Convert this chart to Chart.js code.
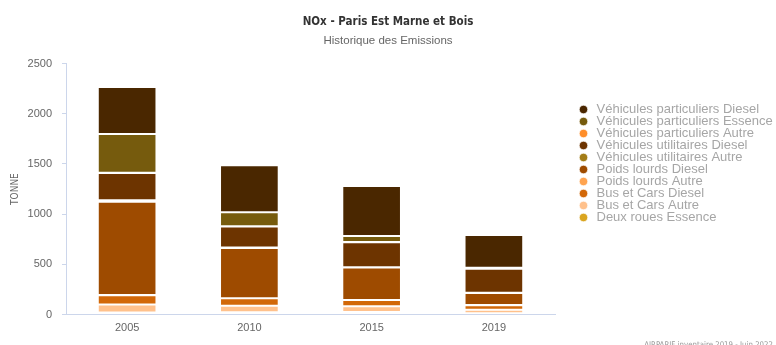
<!DOCTYPE html>
<html lang="fr">
<head>
<meta charset="utf-8">
<title>NOx - Paris Est Marne et Bois</title>
<script src="https://cdn.jsdelivr.net/npm/chart.js@4/dist/chart.umd.min.js"></script>
<style>
  html, body { margin: 0; padding: 0; background: #ffffff; }
  #wrap { width: 776px; height: 345px; position: relative; }
</style>
</head>
<body>
<div id="wrap"><canvas id="chart"></canvas></div>
<script>
// Années de l'inventaire
const annees = ['2005', '2010', '2015', '2019'];

// Émissions de NOx (tonnes) par catégorie de véhicule
const vpDiesel   = [469, 470, 499, 327];
const vpEssence  = [386, 138, 59, 8];
const vpAutre    = [2, 2, 1, 1];
const vuDiesel   = [271, 210, 251, 240];
const vuAutre    = [15, 5, 2, 2];
const plDiesel   = [930, 500, 323, 120];
const plAutre    = [2, 1, 1, 1];
const bcDiesel   = [93, 75, 63, 46];
const bcAutre    = [79, 64, 56, 35];
const drEssence  = [20, 23, 25, 12];

// Graduations de l'axe des tonnes
const ticksTonnes = [0, 500, 1000, 1500, 2000, 2500];

const titre = 'NOx - Paris Est Marne et Bois';
const sousTitre = 'Historique des Emissions';
const credit = 'AIRPARIF inventaire 2019 - Juin 2022';

const condensed = "'DejaVu Sans Condensed', 'Liberation Sans', sans-serif";
const sans = "'Liberation Sans', Arial, sans-serif";

// Séries empilées du bas vers le haut ; la légende est affichée en ordre inverse
const series = [
  { label: 'Deux roues Essence',            data: drEssence, color: '#daa520' },
  { label: 'Bus et Cars Autre',             data: bcAutre,   color: '#ffc18c' },
  { label: 'Bus et Cars Diesel',            data: bcDiesel,  color: '#d26808' },
  { label: 'Poids lourds Autre',            data: plAutre,   color: '#ffa450' },
  { label: 'Poids lourds Diesel',           data: plDiesel,  color: '#9e4b00' },
  { label: 'Véhicules utilitaires Autre',   data: vuAutre,   color: '#a37d17' },
  { label: 'Véhicules utilitaires Diesel',  data: vuDiesel,  color: '#6d3400' },
  { label: 'Véhicules particuliers Autre',  data: vpAutre,   color: '#ff8e2a' },
  { label: 'Véhicules particuliers Essence',data: vpEssence, color: '#765b0d' },
  { label: 'Véhicules particuliers Diesel', data: vpDiesel,  color: '#4a2700' }
];

// Mention de la source en bas à droite
const creditPlugin = {
  id: 'credit',
  afterDraw(chart) {
    const ctx = chart.ctx;
    ctx.save();
    ctx.font = "7.8px " + condensed;
    ctx.fillStyle = '#999999';
    ctx.textAlign = 'right';
    ctx.textBaseline = 'alphabetic';
    ctx.fillText(credit, chart.width - 3, chart.height + 2);
    ctx.restore();
  }
};

new Chart(document.getElementById('chart'), {
  type: 'bar',
  data: {
    labels: annees,
    datasets: series.map(s => ({
      label: s.label,
      data: s.data,
      backgroundColor: s.color,
      borderColor: 'rgba(255,255,255,0.7)',
      borderWidth: 1,
      borderSkipped: false,
      categoryPercentage: 0.8,
      barPercentage: 0.6
    }))
  },
  options: {
    responsive: true,
    maintainAspectRatio: false,
    animation: false,
    devicePixelRatio: 1,
    layout: { padding: 0 },
    plugins: {
      title: {
        display: true,
        text: titre,
        color: '#333333',
        font: { family: condensed, size: 11.5, weight: 'bold', lineHeight: 1.2 },
        padding: { top: 15, bottom: 2 }
      },
      subtitle: {
        display: true,
        text: sousTitre,
        color: '#666666',
        font: { family: sans, size: 11.5, lineHeight: 1.2 },
        padding: { top: 3, bottom: 16 }
      },
      legend: {
        position: 'right',
        align: 'start',
        reverse: true,
        maxWidth: 198,
        title: {
          display: true,
          text: ' ',
          font: { size: 10, lineHeight: 1 },
          padding: { top: 94, bottom: 0 }
        },
        labels: {
          usePointStyle: true,
          pointStyle: 'circle',
          boxWidth: 13,
          boxHeight: 6,
          padding: -1,
          color: '#a6a6a6',
          font: { family: sans, size: 13 }
        }
      },
      tooltip: { enabled: false }
    },
    scales: {
      x: {
        stacked: true,
        grid: { display: false, drawTicks: false },
        border: { display: true, color: '#ccd6eb', width: 1 },
        ticks: {
          color: '#666666',
          padding: 7,
          font: { family: sans, size: 11 }
        },
        afterFit(scale) { scale.height = 30.5; }
      },
      y: {
        stacked: true,
        min: ticksTonnes[0],
        max: ticksTonnes[ticksTonnes.length - 1],
        afterBuildTicks(scale) { scale.ticks = ticksTonnes.map(v => ({ value: v })); },
        grid: {
          display: true,
          drawOnChartArea: false,
          drawTicks: true,
          tickLength: 4,
          color: '#ccd6eb'
        },
        border: { display: true, color: '#ccd6eb', width: 1 },
        ticks: {
          color: '#666666',
          padding: 10,
          font: { family: sans, size: 11 },
          callback: (v) => String(v)
        },
        title: {
          display: true,
          text: 'TONNE',
          color: '#666666',
          font: { family: condensed, size: 10 },
          padding: { top: 9, bottom: 0 }
        },
        afterFit(scale) { scale.width = 66; }
      },
      marge: {
        type: 'linear',
        position: 'right',
        display: true,
        grid: { display: false },
        border: { display: false },
        ticks: { display: false },
        afterFit(scale) { scale.width = 23; }
      }
    }
  },
  plugins: [creditPlugin]
});
</script>
</body>
</html>
